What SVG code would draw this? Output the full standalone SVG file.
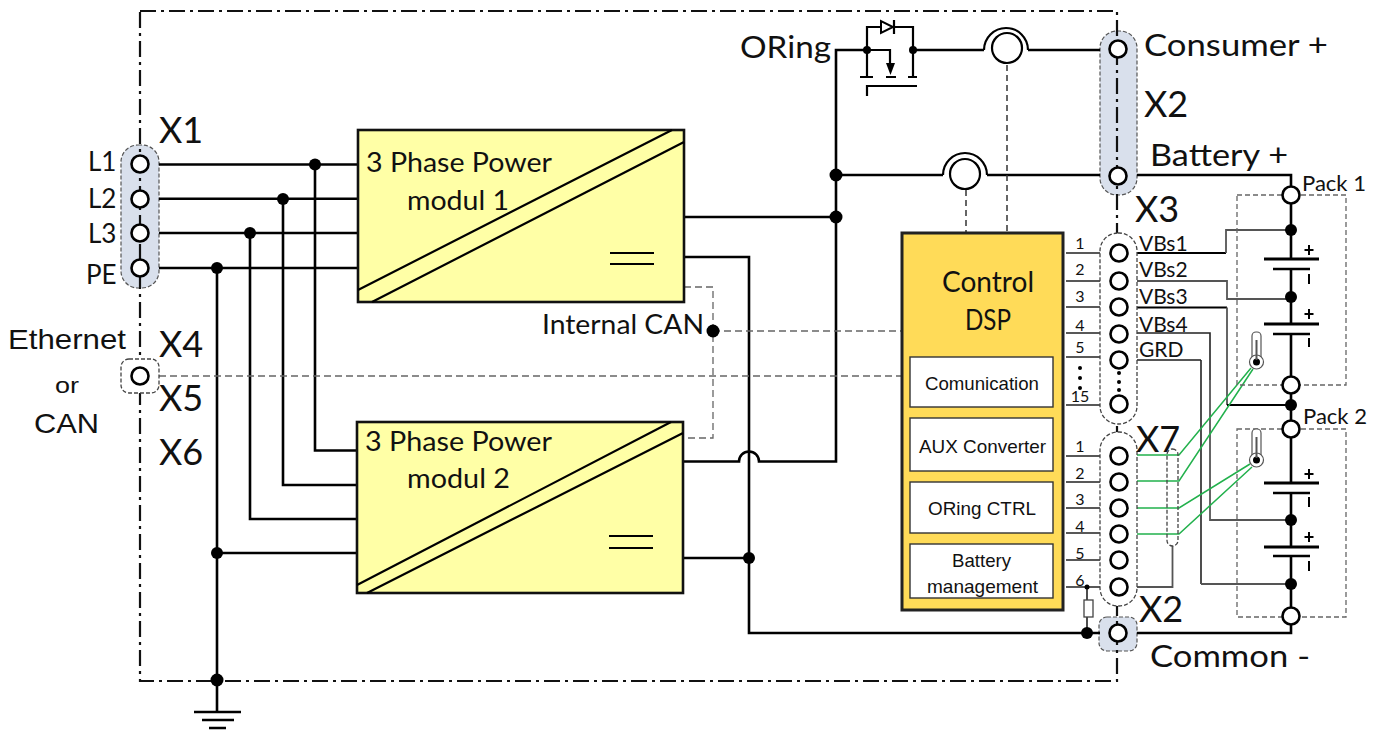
<svg xmlns="http://www.w3.org/2000/svg" width="1383" height="731" viewBox="0 0 1383 731">
<style>
text{font-family:"Lato","Liberation Sans",sans-serif;fill:#111}
.ar{font-family:"Liberation Sans",Arial,sans-serif}
.w{fill:none;stroke:#000;stroke-width:2.6}
.th{fill:none;stroke:#000;stroke-width:2}
.t{fill:none;stroke:#222;stroke-width:1.6}
.g{fill:none;stroke:#555;stroke-width:1.8}
.sig{fill:none;stroke:#666;stroke-width:1.3;stroke-dasharray:7 4}
.sigd{fill:none;stroke:#333;stroke-width:1.5;stroke-dasharray:6 4}
.gr{fill:none;stroke:#22b14c;stroke-width:1.5}
.cap{fill:#d9e0ec;stroke:#555;stroke-width:1.2;stroke-dasharray:4 2}
.capw{fill:#fff;stroke:#444;stroke-width:1.3;stroke-dasharray:4 2}
.pin{fill:#fff;stroke:#000;stroke-width:2.6}
.d{fill:#000}
.mod{fill:#ffffa6;stroke:#111;stroke-width:2.6}
.sub{fill:#fff;stroke:#333;stroke-width:1.4}
.frame{fill:none;stroke:#111;stroke-width:2.2;stroke-dasharray:16 5 3 5}
.pack{fill:none;stroke:#666;stroke-width:1.3;stroke-dasharray:5 3}
.big{font-size:36px}
.lbl{font-size:26px}
.sm{font-size:16px}
.vb{font-size:21px}
.box{font-size:18.500px}
</style>

<g id="x1-x2-backing">
<rect class="cap" x="121" y="145" width="38" height="143" rx="17"/>
<rect class="cap" x="1100" y="31" width="37" height="164" rx="17"/>
<rect class="cap" x="1099" y="617" width="38" height="34" rx="8"/>
</g>
<rect id="enclosure" class="frame" x="140" y="11" width="977" height="670"/>

<g id="connectors">
<path class="w" d="M159 164.500H358M159 198.700H358M159 233H358M159 268H358"/>
<path class="w" d="M315 165V450.500H357M283 199V485H357M250 233V519H357M217 268V680M217 553H357"/>
<path class="w" d="M217 680V712"/>
<path class="w" d="M194 712H241M202 720H234M209 728H226"/>
<path class="w" d="M684 217H836M684 257H749V633H1100"/>
<path class="w" d="M683 461.500H739A10 10 0 0 1 759 461.500H836V50H867"/>
<path class="w" d="M683 558H749"/>
<path class="w" d="M913 50H984M1028 50H1100M836 175H943M987 175H1100"/>
<path class="w" d="M984 50A22 22 0 0 1 1028 50M943 175A22 22 0 0 1 987 175" style="stroke-width:2.200"/>
<path class="sigd" d="M1007 65V232M966 190V232"/>
<path class="sig" d="M684 287H713V438H683M713 331H902M159 376H902"/>

<path class="w" d="M867 50V27H881M894 27H913V50M867 50V77M913 50V77M867 50H890V66" style="stroke-width:2.200"/>
<path class="w" d="M860 77H873M886 77H896M908 77H917M867 96V86H917M894 20V34" style="stroke-width:2.200"/>
<path d="M881 21V33L893 27Z" fill="#fff" stroke="#000" stroke-width="2"/>
<path class="d" d="M886 63H895L890.500 75Z"/>

<path class="w" d="M1137 175H1291V195M1291 195V259M1291 269V324M1291 334V385M1291 385V429M1291 429V483M1291 493V547M1291 556V616M1291 616V633H1137"/>
<path class="w" style="stroke-width:3" d="M1264 259H1319M1264 324H1319M1264 483H1319M1264 547H1319"/>
<path class="w" d="M1273 269H1310M1273 334H1310M1273 493H1310M1273 556H1310"/>
<path class="th" d="M1309 245V255M1304.500 250H1313.500M1309 309V319M1304.500 314H1313.500M1309 469V479M1304.500 474H1313.500M1309 532V542M1304.500 537H1313.500"/>
<path class="th" d="M1309 274V284M1309 338V347M1309 497V507M1309 561V571"/>

<path class="t" d="M1066 253H1100M1066 281H1100M1066 307H1100M1066 333H1100M1066 357H1100M1066 405H1100"/>
<path class="t" d="M1066 456H1100M1066 482H1100M1066 508H1100M1066 533H1100M1066 560H1100M1066 587H1100"/>
<path class="th" d="M1137 253H1226"/><path class="g" d="M1226 253V230H1291"/>
<path class="g" d="M1137 281H1227V299H1291"/>
<path class="th" d="M1137 307.500H1227"/><path class="g" d="M1227 307.500V405"/><path class="th" d="M1227 405H1291"/>
<path class="t" d="M1137 333H1210V380"/><path class="g" d="M1210 380V520H1291"/>
<path class="g" d="M1137 360H1201"/><path class="t" d="M1201 360V584"/><path class="g" d="M1201 584H1291"/>

<path class="gr" d="M1137 455H1179L1251 368M1137 481H1179L1253 369M1137 508H1179L1250 464M1137 534H1179L1252 467"/>
<path class="g" d="M1172.500 546V587H1137"/>
<path class="t" d="M1087 587V600M1087 617V633"/>
</g>

<g id="module-1">
<rect class="mod" x="358" y="130" width="326" height="172"/>
<path class="w" d="M358 290L672 130M372 302L684 142" style="stroke-width:2.200"/>
<path class="th" d="M610 253H654M610 264H654"/>
<text x="366" y="172" font-size="27" textLength="186" lengthAdjust="spacingAndGlyphs">3 Phase Power</text>
<text x="407" y="210" font-size="27" textLength="102" lengthAdjust="spacingAndGlyphs">modul 1</text>
</g>
<g id="module-2">
<rect class="mod" x="357" y="422" width="326" height="171"/>
<path class="w" d="M357 585L671 422M367 593L683 433" style="stroke-width:2.200"/>
<path class="th" d="M609 536H653M609 548H653"/>
<text x="365" y="451" font-size="27" textLength="187" lengthAdjust="spacingAndGlyphs">3 Phase Power</text>
<text x="407" y="488" font-size="27" textLength="103" lengthAdjust="spacingAndGlyphs">modul 2</text>
</g>

<g id="control-dsp">
<rect x="902" y="233" width="161" height="377" fill="#ffdb58" stroke="#222" stroke-width="3"/>
<text x="942" y="292" font-size="28" textLength="92" lengthAdjust="spacingAndGlyphs">Control</text>
<text x="965" y="330" font-size="28" textLength="46" lengthAdjust="spacingAndGlyphs">DSP</text>
<g id="comunication"><rect class="sub" x="910" y="357" width="143" height="50"/><text class="ar box" x="925" y="390" textLength="114" lengthAdjust="spacingAndGlyphs">Comunication</text></g>
<g id="aux-converter"><rect class="sub" x="910" y="418" width="143" height="53"/><text class="ar box" x="919" y="453" textLength="127" lengthAdjust="spacingAndGlyphs">AUX Converter</text></g>
<g id="oring-ctrl"><rect class="sub" x="910" y="482" width="143" height="51"/><text class="ar box" x="928" y="515" textLength="108" lengthAdjust="spacingAndGlyphs">ORing CTRL</text></g>
<g id="battery-management"><rect class="sub" x="910" y="544" width="143" height="54"/><text class="ar box" x="952" y="567" textLength="59" lengthAdjust="spacingAndGlyphs">Battery</text><text class="ar box" x="927" y="593" textLength="111" lengthAdjust="spacingAndGlyphs">management</text></g>
</g>

<g id="x1">
<circle class="pin" cx="140" cy="164" r="8.500"/><circle class="pin" cx="140" cy="199" r="8.500"/><circle class="pin" cx="140" cy="233" r="8.500"/><circle class="pin" cx="140" cy="268" r="8.500"/>
<text class="big" x="159" y="143">X1</text>
<text class="lbl" x="88" y="171">L1</text>
<text class="lbl" x="88" y="208">L2</text>
<text class="lbl" x="88" y="243">L3</text>
<text class="lbl" x="86" y="284">PE</text>
</g>
<g id="x4">
<rect class="capw" x="121" y="359" width="38" height="34" rx="8"/>
<circle class="pin" cx="140" cy="376" r="8.500"/>
<text class="big" x="159" y="357">X4</text>
<text class="big" x="159" y="411">X5</text>
<text class="big" x="159" y="465">X6</text>
<text class="ar" x="8" y="349" font-size="28" textLength="118" lengthAdjust="spacingAndGlyphs">Ethernet</text>
<text class="ar" x="55" y="393" font-size="22" textLength="24" lengthAdjust="spacingAndGlyphs">or</text>
<text class="ar" x="34" y="433" font-size="28" textLength="65" lengthAdjust="spacingAndGlyphs">CAN</text>
</g>
<g id="x2-top">
<circle class="pin" cx="1118" cy="49" r="8.500"/><circle class="pin" cx="1118" cy="176" r="8.500"/>
<text class="big" x="1144" y="117">X2</text>
<text x="1144" y="56" font-size="30" textLength="184" lengthAdjust="spacingAndGlyphs">Consumer +</text>
<text x="1150" y="166" font-size="30" textLength="138" lengthAdjust="spacingAndGlyphs">Battery +</text>
</g>
<g id="x3">
<rect class="capw" x="1100" y="233" width="37" height="191" rx="18"/>
<circle class="pin" cx="1119" cy="253" r="8.500"/><circle class="pin" cx="1119" cy="281" r="8.500"/><circle class="pin" cx="1119" cy="307" r="8.500"/><circle class="pin" cx="1119" cy="334" r="8.500"/><circle class="pin" cx="1119" cy="360" r="8.500"/><circle class="pin" cx="1119" cy="404" r="8.500"/>
<circle class="d" cx="1119" cy="373" r="2"/><circle class="d" cx="1119" cy="382" r="2"/><circle class="d" cx="1119" cy="390" r="2"/>
<circle class="d" cx="1080" cy="368" r="2"/><circle class="d" cx="1080" cy="378" r="2"/><circle class="d" cx="1080" cy="388" r="2"/>
<text class="big" x="1135" y="222">X3</text>
<g class="sm" text-anchor="middle"><text x="1080" y="249">1</text><text x="1080" y="275">2</text><text x="1080" y="302">3</text><text x="1080" y="331">4</text><text x="1080" y="353">5</text><text x="1080" y="402">15</text></g>
<g class="vb"><text x="1139" y="251">VBs1</text><text x="1139" y="277">VBs2</text><text x="1139" y="304">VBs3</text><text x="1139" y="332">VBs4</text><text x="1139" y="357">GRD</text></g>
</g>
<g id="x7">
<rect class="capw" x="1100" y="432" width="37" height="174" rx="18"/>
<circle class="pin" cx="1119" cy="456" r="8.500"/><circle class="pin" cx="1119" cy="482" r="8.500"/><circle class="pin" cx="1119" cy="508" r="8.500"/><circle class="pin" cx="1119" cy="534" r="8.500"/><circle class="pin" cx="1119" cy="560" r="8.500"/><circle class="pin" cx="1119" cy="587" r="8.500"/>
<text class="big" x="1136" y="452">X7</text>
<g class="sm" text-anchor="middle"><text x="1080" y="452">1</text><text x="1080" y="479">2</text><text x="1080" y="505">3</text><text x="1080" y="532">4</text><text x="1080" y="559">5</text><text x="1080" y="586">6</text></g>
<rect class="capw" x="1167" y="449" width="11" height="97" rx="5.500" style="fill:none"/>
</g>
<g id="x2-bottom">
<circle class="pin" cx="1118" cy="633" r="8.500"/>
<text class="big" x="1139" y="622">X2</text>
<text x="1150" y="667" font-size="30" textLength="160" lengthAdjust="spacingAndGlyphs">Common -</text>
</g>
<g id="oring-label"><text x="740" y="58" font-size="30" textLength="91" lengthAdjust="spacingAndGlyphs">ORing</text></g>
<g id="internal-can-label"><text x="542" y="334" font-size="26" textLength="162" lengthAdjust="spacingAndGlyphs">Internal CAN</text></g>
<g id="current-sensor-1"><circle cx="1007" cy="48" r="15" fill="#fff" stroke="#000" stroke-width="2.200"/></g>
<g id="current-sensor-2"><circle cx="965" cy="174" r="15" fill="#fff" stroke="#000" stroke-width="2.200"/></g>
<g id="resistor"><rect x="1084" y="600" width="9" height="17" fill="#fff" stroke="#444" stroke-width="1.300"/></g>

<g id="pack-1">
<rect class="pack" x="1237" y="195" width="109" height="190"/>
<circle class="pin" cx="1291" cy="195" r="8.500"/><circle class="pin" cx="1291" cy="385" r="8.500"/>
<text x="1302" y="191" font-size="21" textLength="64" lengthAdjust="spacingAndGlyphs">Pack 1</text>
</g>
<g id="pack-2">
<rect class="pack" x="1237" y="429" width="109" height="188"/>
<circle class="pin" cx="1291" cy="429" r="8.500"/><circle class="pin" cx="1291" cy="616" r="8.500"/>
<text x="1303" y="424" font-size="21" textLength="64" lengthAdjust="spacingAndGlyphs">Pack 2</text>
</g>
<g id="thermo-1">
<rect x="1252" y="332" width="9" height="32" rx="4" fill="#fff" stroke="#555" stroke-width="1.200"/>
<circle cx="1256.500" cy="362" r="7" fill="#fff" stroke="#555" stroke-width="1.200"/><circle class="d" cx="1256.500" cy="362" r="3.500"/>
<path d="M1256.500 340V360" stroke="#555" stroke-width="2"/>
</g>
<g id="thermo-2">
<rect x="1252" y="429" width="9" height="32" rx="4" fill="#fff" stroke="#555" stroke-width="1.200"/>
<circle cx="1256.500" cy="460" r="7" fill="#fff" stroke="#555" stroke-width="1.200"/><circle class="d" cx="1256.500" cy="460" r="3.500"/>
<path d="M1256.500 437V458" stroke="#555" stroke-width="2"/>
</g>

<g id="junctions">
<circle class="d" cx="315" cy="164.500" r="6"/><circle class="d" cx="283" cy="199" r="6"/><circle class="d" cx="250" cy="233" r="6"/><circle class="d" cx="217" cy="268" r="6"/><circle class="d" cx="217" cy="553" r="6"/><circle class="d" cx="217" cy="680" r="6.500"/>
<circle class="d" cx="836" cy="175" r="6.500"/><circle class="d" cx="836" cy="217" r="6.500"/><circle class="d" cx="749" cy="558" r="6"/><circle class="d" cx="713" cy="331" r="6.500"/><circle class="d" cx="1087" cy="633" r="6"/><circle class="d" cx="1087" cy="587" r="2.500"/>
<circle class="d" cx="867" cy="50" r="4"/><circle class="d" cx="913" cy="50" r="4"/>
<circle class="d" cx="1291" cy="230" r="6"/><circle class="d" cx="1291" cy="297" r="6"/><circle class="d" cx="1291" cy="405" r="6"/><circle class="d" cx="1291" cy="520" r="6"/><circle class="d" cx="1291" cy="584" r="6"/>
</g>
</svg>
